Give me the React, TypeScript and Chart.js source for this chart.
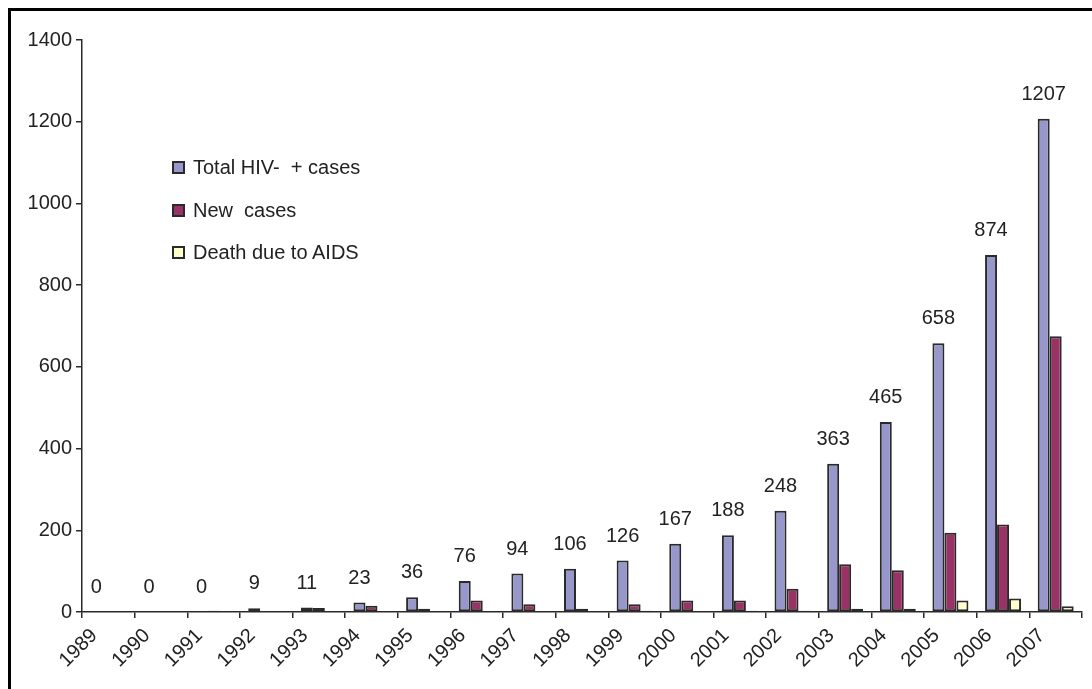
import { useEffect, useRef } from "react";
import { Chart, registerables } from "chart.js";

Chart.register(...registerables);

const years = [
  "1989", "1990", "1991", "1992", "1993", "1994", "1995", "1996", "1997", "1998",
  "1999", "2000", "2001", "2002", "2003", "2004", "2005", "2006", "2007",
];
const totalCases = [0, 0, 0, 9, 11, 23, 36, 76, 94, 106, 126, 167, 188, 248, 363, 465, 658, 874, 1207];
const newCases = [0, 0, 3, 0, 10, 15, 8, 28, 19, 8, 19, 28, 28, 57, 117, 102, 194, 214, 675];
const aidsDeaths = [0, 0, 0, 0, 0, 0, 0, 0, 0, 0, 3, 0, 3, 3, 8, 8, 28, 33, 14];
const seriesLabels = ["Total HIV-  + cases", "New  cases", "Death due to AIDS"];
const seriesColors = ["#9797CB", "#993366", "#FFFFCC"];
const yMin = 0;
const yMax = 1400;
const yStep = 200;

const FONT = '"Liberation Sans", Arial, Helvetica, sans-serif';
const TEXT = "#222222";
const EDGE = "#2a2a2a";

const valueLabels = {
  id: "valueLabels",
  afterDatasetsDraw(chart: any) {
    const meta = chart.getDatasetMeta(0);
    const ctx = chart.ctx;
    ctx.save();
    ctx.font = `20px ${FONT}`;
    ctx.fillStyle = TEXT;
    ctx.textAlign = "center";
    ctx.textBaseline = "alphabetic";
    meta.data.forEach((el: any, i: number) => {
      ctx.fillText(String(totalCases[i]), el.x, el.y - 19);
    });
    ctx.restore();
  },
};

export default function App() {
  const ref = useRef<HTMLCanvasElement | null>(null);

  useEffect(() => {
    if (!ref.current) return;
    const chart = new Chart(ref.current, {
      type: "bar",
      data: {
        labels: years,
        datasets: [totalCases, newCases, aidsDeaths].map((d, i) => ({
          label: seriesLabels[i],
          data: d,
          backgroundColor: seriesColors[i],
          borderColor: EDGE,
          borderWidth: 2,
          borderSkipped: false,
          categoryPercentage: 0.684,
          barPercentage: 1,
        })),
      },
      options: {
        responsive: false,
        animation: false,
        devicePixelRatio: 1,
        layout: { padding: { left: 0, right: 10, top: 32, bottom: 0 } },
        plugins: {
          legend: { display: false },
          tooltip: { enabled: false },
        },
        scales: {
          x: {
            offset: true,
            afterFit: (s: any) => {
              s.height = 77;
            },
            grid: {
              display: true,
              offset: true,
              drawOnChartArea: false,
              drawTicks: true,
              tickLength: 6,
              color: EDGE,
              lineWidth: 1.5,
            },
            border: { display: true, color: EDGE, width: 1.5 },
            ticks: {
              autoSkip: false,
              minRotation: 45,
              maxRotation: 45,
              labelOffset: -14,
              padding: 6,
              color: TEXT,
              font: { family: FONT, size: 20 },
            },
          },
          y: {
            min: yMin,
            max: yMax,
            afterFit: (s: any) => {
              s.width = 74;
            },
            grid: {
              display: true,
              drawOnChartArea: false,
              drawTicks: true,
              tickLength: 6,
              color: EDGE,
              lineWidth: 1.5,
            },
            border: { display: true, color: EDGE, width: 1.5 },
            ticks: {
              stepSize: yStep,
              padding: 4,
              color: TEXT,
              font: { family: FONT, size: 20 },
              callback: (v: any) => String(v),
            },
          },
        },
      },
      plugins: [valueLabels],
    });
    return () => chart.destroy();
  }, []);

  const legendTops = [167, 210, 252];

  return (
    <div style={{ position: "fixed", left: 0, top: 0, width: 1092, height: 689, overflow: "hidden", background: "#fff" }}>
      <canvas
        ref={ref}
        width={1084}
        height={681}
        style={{ position: "absolute", left: 8, top: 8, width: 1084, height: 681 }}
      />
      <div
        style={{
          position: "absolute",
          left: 8,
          top: 8,
          width: 1200,
          height: 800,
          borderTop: "3px solid #000",
          borderLeft: "3px solid #000",
          pointerEvents: "none",
        }}
      />
      {seriesLabels.map((lab, i) => (
        <div
          key={lab}
          style={{
            position: "absolute",
            left: 172,
            top: legendTops[i] - 12,
            height: 24,
            display: "flex",
            alignItems: "center",
            fontFamily: FONT,
            fontSize: 20,
            color: TEXT,
            whiteSpace: "pre",
            lineHeight: "24px",
          }}
        >
          <span
            style={{
              display: "inline-block",
              boxSizing: "border-box",
              width: 13,
              height: 13,
              background: seriesColors[i],
              border: `2px solid ${EDGE}`,
              marginRight: 8,
            }}
          />
          <span>{lab}</span>
        </div>
      ))}
    </div>
  );
}
